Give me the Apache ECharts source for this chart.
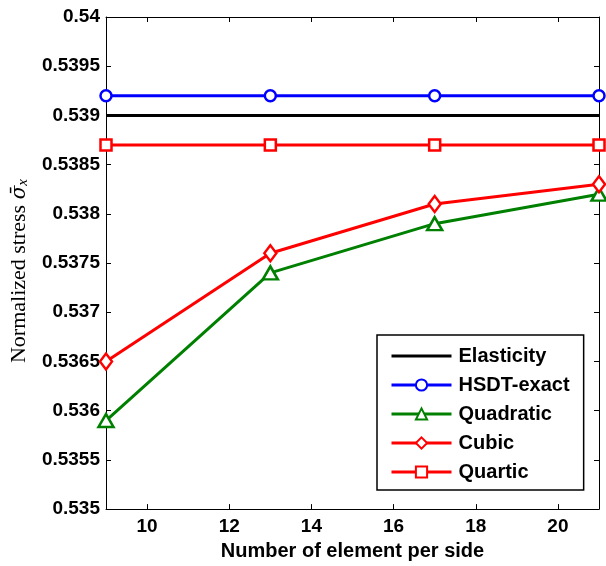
<!DOCTYPE html>
<html>
<head>
<meta charset="utf-8">
<script src="https://cdn.jsdelivr.net/npm/echarts@6/dist/echarts.min.js"></script>
<style>html,body{margin:0;padding:0;background:#fff}#c{width:606px;height:566px}</style>
</head>
<body>
<div id="c"></div>
<script>
// ---- data ----
var elements = [9, 13, 17, 21];
var elasticityX = [9, 21];
var elasticity = [0.539, 0.539];
var hsdtExact = [0.5392, 0.5392, 0.5392, 0.5392];
var quadratic = [0.5359, 0.5374, 0.5379, 0.5382];
var cubic = [0.5365, 0.5376, 0.5381, 0.5383];
var quartic = [0.5387, 0.5387, 0.5387, 0.5387];
var xTicks = [10, 12, 14, 16, 18, 20];
var yTicks = [0.535, 0.5355, 0.536, 0.5365, 0.537, 0.5375, 0.538, 0.5385, 0.539, 0.5395, 0.54];

function pairs(xs, ys) { return xs.map(function (x, i) { return [x, ys[i]]; }); }

var chart = echarts.init(document.getElementById('c'), null, { renderer: 'canvas' });
var labelFont = { fontFamily: 'Liberation Sans, Arial, sans-serif', fontWeight: 'bold', fontSize: 19, color: '#000' };
var tickStyle = { show: true, inside: true, length: 5, lineStyle: { color: '#000', width: 1 } };

function mk(name, xs, ys, color, symbol, size) {
  return {
    name: name, type: 'line', xAxisIndex: 0, yAxisIndex: 0,
    data: pairs(xs, ys),
    symbol: symbol || 'none', symbolSize: size || 0, showSymbol: !!symbol,
    lineStyle: { color: color, width: 3 },
    itemStyle: { color: symbol ? '#fff' : color, borderColor: color, borderWidth: symbol ? 2.5 : 0 },
    emphasis: { disabled: true }, animation: false
  };
}

chart.setOption({
  animation: false,
  grid: { left: 106, right: 7, top: 17, bottom: 53, containLabel: false },
  legend: {
    orient: 'vertical', left: 377, top: 335,
    padding: [11, 14, 8, 13],
    itemWidth: 60, itemHeight: 14, itemGap: 9,
    borderColor: '#000', borderWidth: 1.5, backgroundColor: '#fff',
    lineStyle: { width: 3 },
    textStyle: { fontFamily: 'Liberation Sans, Arial, sans-serif', fontWeight: 'bold', fontSize: 20, color: '#000', lineHeight: 19, padding: [0, 0, 0, 2] },
    data: [
      { name: 'Elasticity', icon: 'path://M0,0L60,0L60,3L0,3Z' },
      'HSDT-exact', 'Quadratic', 'Cubic', 'Quartic'
    ]
  },
  xAxis: [{
    type: 'value', min: 9, max: 21, position: 'bottom',
    name: 'Number of element per side', nameLocation: 'middle', nameGap: 23,
    nameTextStyle: { fontFamily: 'Liberation Sans, Arial, sans-serif', fontWeight: 'bold', fontSize: 20, color: '#000' },
    axisLine: { show: true, onZero: false, lineStyle: { color: '#000', width: 1 } },
    axisTick: Object.assign({ customValues: xTicks }, tickStyle),
    axisLabel: Object.assign({ customValues: xTicks, margin: 8 }, labelFont),
    splitLine: { show: false }
  }, {
    type: 'value', min: 9, max: 21, position: 'top',
    axisLine: { show: true, onZero: false, lineStyle: { color: '#000', width: 1 } },
    axisTick: Object.assign({ customValues: xTicks }, tickStyle),
    axisLabel: { show: false }, splitLine: { show: false }
  }],
  yAxis: [{
    type: 'value', min: 0.535, max: 0.54, position: 'left',
    name: '{a|Normalized stress }{s|σ̄}{x|x}', nameLocation: 'middle', nameGap: 75,
    nameTextStyle: {
      padding: [0, 16, 0, 0],
      rich: {
        a: { fontFamily: 'Liberation Serif, Times New Roman, serif', fontSize: 22, color: '#000' },
        s: { fontFamily: 'DejaVu Serif, serif', fontStyle: 'italic', fontSize: 20, color: '#000' },
        x: { fontFamily: 'Liberation Serif, Times New Roman, serif', fontStyle: 'italic', fontSize: 15, color: '#000', verticalAlign: 'bottom', padding: [8, 0, 0, 0] }
      }
    },
    axisLine: { show: true, onZero: false, lineStyle: { color: '#000', width: 1 } },
    axisTick: Object.assign({ customValues: yTicks }, tickStyle),
    axisLabel: Object.assign({ customValues: yTicks, margin: 6, formatter: function (v) { return String(parseFloat(v.toFixed(4))); } }, labelFont),
    splitLine: { show: false }
  }, {
    type: 'value', min: 0.535, max: 0.54, position: 'right',
    axisLine: { show: true, onZero: false, lineStyle: { color: '#000', width: 1 } },
    axisTick: Object.assign({ customValues: yTicks }, tickStyle),
    axisLabel: { show: false }, splitLine: { show: false }
  }],
  series: [
    mk('Elasticity', elasticityX, elasticity, '#000000'),
    mk('HSDT-exact', elements, hsdtExact, '#0000ff', 'circle', 11),
    mk('Quadratic', elements, quadratic, '#008000', 'triangle', [15, 13]),
    mk('Cubic', elements, cubic, '#ff0000', 'diamond', [12, 16]),
    mk('Quartic', elements, quartic, '#ff0000', 'rect', 11)
  ]
});
</script>
</body>
</html>
